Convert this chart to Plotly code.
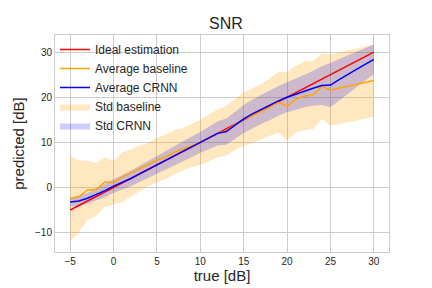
import plotly.graph_objects as go

x_true = list(range(-5, 31))
ideal = list(range(-5, 31))

baseline_mean = [-2.5, -2.0, -0.6, -0.4, 1.2, 1.1, 2.3, 3.2, 4.2, 5.1, 6.1, 6.8, 7.8, 8.5, 9.3,
                 10.0, 11.0, 12.0, 12.6, 14.0, 15.2, 15.9, 16.8, 17.8, 18.9, 18.0, 19.6, 20.3,
                 20.5, 22.4, 21.6, 22.0, 22.4, 22.8, 23.3, 23.7]
baseline_std = [9.4, 8.0, 6.5, 5.9, 5.5, 4.8, 5.5, 5.2, 5.1, 4.8, 5.0, 4.9, 4.9, 4.7, 4.8,
                5.0, 5.2, 5.3, 5.5, 5.7, 5.9, 6.1, 6.1, 6.4, 6.7, 7.6, 7.4, 7.6, 7.6, 7.3,
                7.9, 7.9, 8.0, 8.0, 8.0, 8.0]
crnn_mean = [-3.2, -3.0, -2.4, -1.6, -0.7, 0.3, 1.1, 2.0, 3.0, 4.0, 5.0, 6.0, 7.0, 8.0, 9.0,
             10.0, 11.0, 12.0, 12.4, 13.9, 15.2, 16.3, 17.3, 18.2, 19.2, 20.0, 20.7, 21.4,
             22.0, 22.6, 22.7, 23.9, 25.1, 26.2, 27.3, 28.4]
crnn_std = [1.0, 1.1, 1.2, 1.3, 1.4, 1.5, 1.6, 1.7, 1.8, 1.9, 2.0, 2.1, 2.2, 2.2, 2.3,
            2.3, 2.5, 2.7, 2.9, 3.0, 3.1, 3.2, 3.2, 3.3, 3.3, 3.3, 3.4, 3.6, 3.9, 4.3,
            4.9, 4.6, 4.2, 3.9, 3.6, 3.3]

x_ticks = [-5, 0, 5, 10, 15, 20, 25, 30]
y_ticks = [-10, 0, 10, 20, 30]

FONT = "Liberation Sans, Arial, sans-serif"
TXT = "#262626"

fig = go.Figure()

b_up = [m + s for m, s in zip(baseline_mean, baseline_std)]
b_lo = [m - s for m, s in zip(baseline_mean, baseline_std)]
c_up = [m + s for m, s in zip(crnn_mean, crnn_std)]
c_lo = [m - s for m, s in zip(crnn_mean, crnn_std)]

fig.add_trace(go.Scatter(x=x_true, y=b_up, mode="lines", line=dict(width=0),
                         showlegend=False, hoverinfo="skip"))
fig.add_trace(go.Scatter(x=x_true, y=b_lo, mode="lines", line=dict(width=0),
                         fill="tonexty", fillcolor="rgba(255,165,0,0.25)",
                         name="Std baseline", legendrank=4))
fig.add_trace(go.Scatter(x=x_true, y=c_up, mode="lines", line=dict(width=0),
                         showlegend=False, hoverinfo="skip"))
fig.add_trace(go.Scatter(x=x_true, y=c_lo, mode="lines", line=dict(width=0),
                         fill="tonexty", fillcolor="rgba(0,0,255,0.2)",
                         name="Std CRNN", legendrank=5))

fig.add_trace(go.Scatter(x=x_true, y=ideal, mode="lines", line=dict(color="#FF0000", width=1.5),
                         name="Ideal estimation", legendrank=1))
fig.add_trace(go.Scatter(x=x_true, y=baseline_mean, mode="lines", line=dict(color="#FFA500", width=1.5),
                         name="Average baseline", legendrank=2))
fig.add_trace(go.Scatter(x=x_true, y=crnn_mean, mode="lines", line=dict(color="#0000FF", width=1.5),
                         name="Average CRNN", legendrank=3))

# page body has an 8px margin, so the figure is 424x280 placed at (8, 8)
fig.update_layout(
    width=424, height=280,
    margin=dict(l=47, r=43, t=27, b=36, autoexpand=False),
    paper_bgcolor="white", plot_bgcolor="white",
    font=dict(family=FONT, color=TXT, size=10),
    title=dict(text="SNR", x=0.514, xanchor="center", y=0.946, yanchor="middle",
               font=dict(size=16, color=TXT)),
    showlegend=True,
    legend=dict(x=0.0, y=1.0, xanchor="left", yanchor="top", bgcolor="rgba(0,0,0,0)",
                traceorder="normal", font=dict(size=12, color=TXT), itemwidth=30,
                tracegroupgap=0),
    xaxis=dict(range=[-6.75, 31.75], tickvals=x_ticks, showgrid=True, gridcolor="#cccccc",
               gridwidth=1, zeroline=False, showline=True, linecolor="#cccccc", mirror=True,
               ticks="", tickfont=dict(size=10, color=TXT), automargin=False,
               title=dict(text="true [dB]", font=dict(size=15, color=TXT), standoff=4)),
    yaxis=dict(range=[-14.3, 33.8], tickvals=y_ticks, showgrid=True, gridcolor="#cccccc",
               gridwidth=1, zeroline=False, showline=True, linecolor="#cccccc", mirror=True,
               ticks="", tickfont=dict(size=10, color=TXT), automargin=False,
               title=dict(text="predicted [dB]", font=dict(size=15, color=TXT), standoff=6)),
)

fig.write_html("out.html")
